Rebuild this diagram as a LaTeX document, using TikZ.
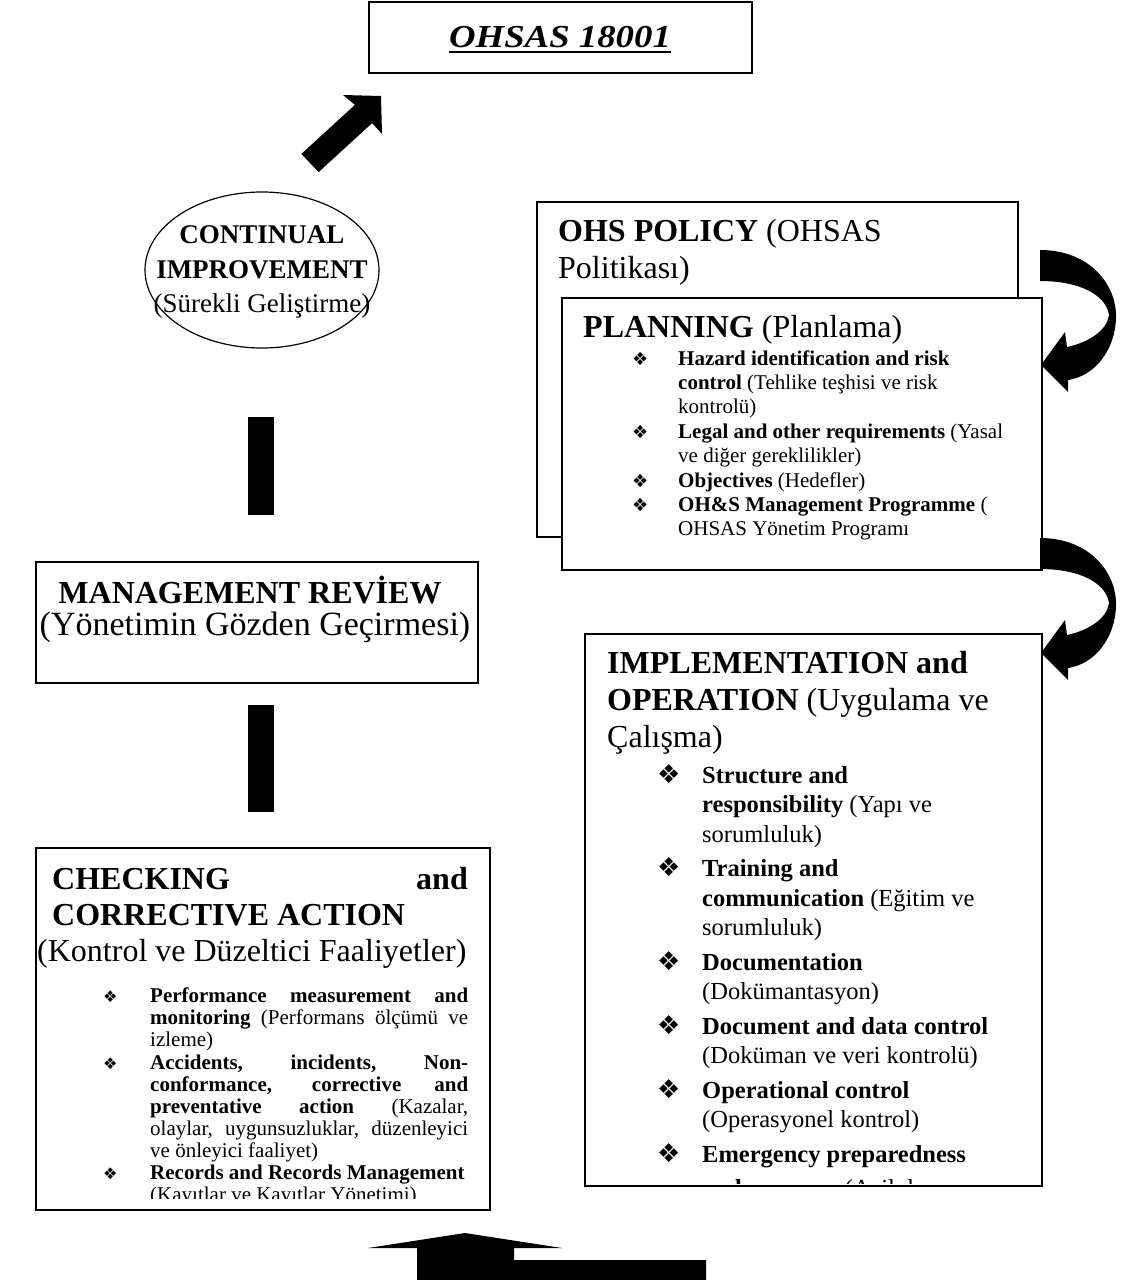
\documentclass[tikz,border=0pt]{standalone}
\usepackage{fontspec}
\setmainfont{Liberation Serif}
\newfontfamily\symfont{DejaVu Sans}
\usetikzlibrary{shapes.geometric}
\tikzset{
  boxline/.style={draw=black, line width=1.5pt, fill=white, inner sep=0pt, outer sep=0pt, anchor=north west},
  hdtxt/.style={inner sep=0pt, anchor=base west, font=\fontsize{32}{37}\selectfont},
  ctrtxt/.style={inner sep=0pt, anchor=base, font=\fontsize{27}{32}\selectfont},
  pltxt/.style={inner sep=0pt, anchor=base west, font=\fontsize{21}{24}\selectfont},
  imtxt/.style={inner sep=0pt, anchor=base west, font=\fontsize{24.5}{29}\selectfont},
  cktxt/.style={inner sep=0pt, anchor=base west, font=\fontsize{21}{22}\selectfont},
  bulP/.style={inner sep=0pt, anchor=base west, font=\fontsize{18}{18}\symfont},
  bulI/.style={inner sep=0pt, anchor=base west, font=\fontsize{26}{26}\symfont},
  bulC/.style={inner sep=0pt, anchor=base west, font=\fontsize{16}{16}\symfont},
  blk/.style={fill=black, draw=none}
}
\newcommand{\jl}[1]{\makebox[318pt][s]{#1}}
\begin{document}
\begin{tikzpicture}[x=1pt,y=-1pt]
\useasboundingbox (0,0) rectangle (1125,1280);

% ---- top box
\node[boxline, minimum width=383pt, minimum height=71pt] (top) at (369,2) {};
\node[inner sep=0pt, anchor=base, font=\fontsize{32}{36}\selectfont\bfseries\itshape] (toptxt) at (560,47) {\scalebox{1.15}[1]{OHSAS 18001}};
\draw[line width=2.5pt] ([yshift=-5pt]toptxt.base west) -- ([yshift=-5pt]toptxt.base east);

% ---- diagonal arrow
\fill[blk] (381,96) -- (343,95) -- (354.9,104.9) -- (301.4,153.9) -- (318.6,172.1) -- (372.1,123.1) -- (382,134) -- cycle;

% ---- ellipse
\node[draw, ellipse, line width=1.2pt, minimum width=234pt, minimum height=156pt] (ci) at (262,270) {};
\node[ctrtxt] (ci1) at (262,243) {\bfseries CONTINUAL};
\node[ctrtxt] (ci2) at (262,278) {\bfseries IMPROVEMENT};
\node[ctrtxt] (ci3) at (262,312) {(Sürekli Geliştirme)};

% ---- vertical bars
\fill[blk] (248,417) rectangle (274,515);
\fill[blk] (248,705) rectangle (274,812);

% ---- management review
\node[boxline, minimum width=442pt, minimum height=121pt] (mr) at (36,562) {};
\node[ctrtxt, font=\fontsize{32}{36}\selectfont] (mr1) at (250,603) {\bfseries MANAGEMENT REVİEW};
\node[ctrtxt, font=\fontsize{34}{38}\selectfont] (mr2) at (255,635) {(Yönetimin Gözden Geçirmesi)};

% ---- policy box
\node[boxline, minimum width=481pt, minimum height=335pt] (pol) at (537,202) {};
\node[hdtxt] (pol1) at (558,241) {\textbf{OHS POLICY} (OHSAS};
\node[hdtxt] (pol2) at (558,278) {Politikası)};

% ---- planning box
\node[boxline, minimum width=480pt, minimum height=272pt] (pln) at (562,298) {};
\node[hdtxt] (pln0) at (583,337) {\textbf{PLANNING} (Planlama)};
\node[bulP] at (632,365) {❖};
\node[pltxt] at (678,365) {\textbf{Hazard identification and risk}};
\node[pltxt] at (678,389) {\textbf{control} (Tehlike teşhisi ve risk};
\node[pltxt] at (678,413) {kontrolü)};
\node[bulP] at (632,438) {❖};
\node[pltxt] at (678,438) {\textbf{Legal and other requirements} (Yasal};
\node[pltxt] at (678,462) {ve diğer gereklilikler)};
\node[bulP] at (632,487) {❖};
\node[pltxt] at (678,487) {\textbf{Objectives} (Hedefler)};
\node[bulP] at (632,511) {❖};
\node[pltxt] at (678,511) {\textbf{OH\&S Management Programme} (};
\node[pltxt] at (678,535) {OHSAS Yönetim Programı};

% ---- curved arrows
\foreach \dy in {0,288}{
\fill[blk, yshift=-\dy pt] (1040,250) .. controls (1090,250) and (1117,285) .. (1116,318)
  .. controls (1115,350) and (1095,376) .. (1068,380)
  -- (1068,392) -- (1041,365) -- (1065,332) -- (1067,347)
  .. controls (1090,342) and (1107,330) .. (1109,315)
  .. controls (1106,295) and (1080,281) .. (1040,281) -- cycle;
}

% ---- implementation box
\node[boxline, minimum width=457pt, minimum height=552pt] (imp) at (585,634) {};
\node[hdtxt] at (607,673) {\textbf{IMPLEMENTATION and}};
\node[hdtxt] at (607,710) {\textbf{OPERATION} (Uygulama ve};
\node[hdtxt] at (607,747) {Çalışma)};
\begin{scope}
\clip (585,634) rectangle (1042,1183);
\node[bulI] at (657,783) {❖};
\node[imtxt] at (702,783) {\textbf{Structure and}};
\node[imtxt] at (702,812.5) {\textbf{responsibility} (Yapı ve};
\node[imtxt] at (702,842) {sorumluluk)};
\node[bulI] at (657,876.5) {❖};
\node[imtxt] at (702,876.5) {\textbf{Training and}};
\node[imtxt] at (702,906) {\textbf{communication} (Eğitim ve};
\node[imtxt] at (702,935.5) {sorumluluk)};
\node[bulI] at (657,970) {❖};
\node[imtxt] at (702,970) {\textbf{Documentation}};
\node[imtxt] at (702,999.5) {(Dokümantasyon)};
\node[bulI] at (657,1034) {❖};
\node[imtxt] at (702,1034) {\textbf{Document and data control}};
\node[imtxt] at (702,1063.5) {(Doküman ve veri kontrolü)};
\node[bulI] at (657,1098) {❖};
\node[imtxt] at (702,1098) {\textbf{Operational control}};
\node[imtxt] at (702,1127.5) {(Operasyonel kontrol)};
\node[bulI] at (657,1162) {❖};
\node[imtxt] at (702,1162) {\textbf{Emergency preparedness}};
\node[imtxt] at (702,1196) {\textbf{and response} (Acil durum};
\end{scope}

% ---- checking box
\node[boxline, minimum width=454pt, minimum height=362pt] (chk) at (36,848) {};
\node[hdtxt] at (52,889) {\textbf{CHECKING}};
\node[hdtxt, anchor=base east] at (468,889) {\textbf{and}};
\node[hdtxt] at (52,925) {\textbf{CORRECTIVE ACTION}};
\node[hdtxt] at (37,961) {(Kontrol ve Düzeltici Faaliyetler)};
\begin{scope}
\clip (36,848) rectangle (490,1198);
\node[bulC] at (103,1002) {❖};
\node[cktxt] at (150,1002) {\jl{\textbf{Performance measurement and}}};
\node[cktxt] at (150,1024) {\jl{\textbf{monitoring} (Performans ölçümü ve}};
\node[cktxt] at (150,1046) {izleme)};
\node[bulC] at (103,1069) {❖};
\node[cktxt] at (150,1069) {\jl{\textbf{Accidents, incidents, Non-}}};
\node[cktxt] at (150,1091) {\jl{\textbf{conformance, corrective and}}};
\node[cktxt] at (150,1113) {\jl{\textbf{preventative action} (Kazalar,}};
\node[cktxt] at (150,1135) {\jl{olaylar, uygunsuzluklar, düzenleyici}};
\node[cktxt] at (150,1157) {ve önleyici faaliyet)};
\node[bulC] at (103,1179) {❖};
\node[cktxt] at (150,1179) {\textbf{Records and Records Management}};
\node[cktxt] at (150,1201) {(Kayıtlar ve Kayıtlar Yönetimi)};
\end{scope}

% ---- bottom bent arrow
\fill[blk] (368,1248) -- (465,1233) -- (562,1248) -- (514,1248) -- (514,1260) -- (706,1260) -- (706,1281) -- (417,1281) -- (417,1248) -- cycle;
\end{tikzpicture}
\end{document}
